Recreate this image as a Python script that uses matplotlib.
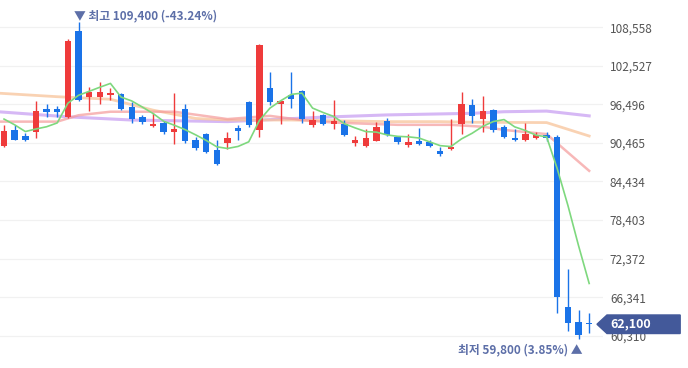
import matplotlib.pyplot as plt
import matplotlib.transforms as mtransforms
from matplotlib.patches import Polygon
import numpy as np

plt.rcParams['font.family'] = ['Noto Sans CJK KR', 'DejaVu Sans']

# daily candles
opens = [90000, 92500, 91600, 92100, 95700, 95800, 94500, 108000, 97600, 97600,
         97900, 98100, 96100, 94500, 93100, 93600, 92200, 95700, 91000, 91900,
         89400, 90400, 92800, 96900, 92500, 99000, 96600, 97900, 98600, 93200,
         94800, 93400, 93500, 90400, 90000, 90800, 93900, 91400, 90100, 90700,
         90600, 89200, 89500, 93400, 96400, 94200, 95600, 93000, 91200, 90900,
         91200, 91700, 91400, 64800, 62400, 62300]
highs = [93300, 93300, 92000, 97100, 96600, 96200, 106700, 109400, 99200, 100000,
         99000, 98300, 96800, 94800, 95200, 93900, 98300, 96500, 91400, 92000,
         91000, 92100, 93300, 97000, 106000, 101500, 97200, 101600, 98700, 95500,
         95000, 97200, 94100, 91600, 92600, 93800, 94300, 91600, 91900, 92800,
         90900, 89900, 94200, 98500, 97300, 97800, 95700, 93300, 92600, 93600,
         92200, 92200, 91700, 70700, 64300, 63900]
lows = [89900, 90900, 90800, 91300, 94600, 94600, 94300, 97100, 95500, 96600,
        97200, 95600, 93600, 93500, 93000, 91900, 90300, 90500, 89300, 88900,
        87000, 89500, 90900, 93000, 91400, 96400, 93500, 96000, 93600, 93000,
        93300, 92600, 91500, 90000, 89900, 90700, 91600, 90300, 89900, 90100,
        89900, 88500, 89300, 91900, 93600, 92100, 92200, 91300, 90800, 90800,
        91100, 90800, 63800, 61100, 59800, 60700]
closes = [92300, 91000, 91000, 95400, 95300, 95300, 106400, 97200, 98500, 98500,
          98300, 95700, 94200, 93700, 93500, 92200, 92600, 90800, 89600, 89100,
          87200, 91300, 92400, 93200, 105800, 96900, 97000, 97400, 94200, 94100,
          93400, 93900, 91700, 91000, 91200, 93000, 91700, 90600, 90600, 90300,
          90000, 88700, 89900, 96600, 94700, 95400, 92500, 91400, 90900, 91900,
          91700, 91200, 66400, 62300, 60400, 62100]

# moving averages
ma5 = [94200, 93300, 92250, 92650, 93000, 93600, 96680, 97920, 98540, 99180,
       99780, 97640, 97040, 96080, 95080, 93860, 93240, 92560, 91740, 90860,
       89860, 89600, 89920, 90640, 93980, 95920, 97060, 98060, 98260, 95920,
       95220, 94600, 93460, 92820, 92240, 92160, 91720, 91500, 91420, 91240,
       90640, 90040, 89900, 91100, 91980, 93060, 93820, 94120, 92980, 92420,
       91680, 91420, 86420, 80700, 74400, 68480]
ma20_idx = [-1, 5, 7, 10, 16, 21, 25, 28, 31, 37, 42, 45, 47, 51, 55]
ma20 = [93800, 93800, 94800, 95350, 95350, 94200, 94700, 94050, 93650, 93300,
        93300, 93000, 92500, 91850, 86100]
ma60_idx = [-1, 5, 10, 14, 18, 21, 27, 36, 41, 44, 51, 55]
ma60 = [98300, 97700, 97300, 95600, 94300, 94050, 94050, 93800, 93800, 93700,
        93650, 91550]
ma120_idx = [-1, 6, 12, 21, 30, 36, 44, 47, 51, 55]
ma120 = [95400, 94550, 94050, 93800, 94500, 94850, 95100, 95350, 95450, 94700]

yticks = [60310, 66341, 72372, 78403, 84434, 90465, 96496, 102527, 108558]
last_price = 62100
high_label = "▼ 최고 109,400 (-43.24%)"
low_label = "최저 59,800 (3.85%) ▲"

RED = '#ef3b3b'
BLUE = '#1a73e8'
TAG = '#43599a'
NOTE = '#5d6fa8'

fig = plt.figure(figsize=(6.88, 3.68), dpi=100)
ax = fig.add_axes([0, 0, 603 / 688, 1])

x = np.arange(len(closes))
o = np.array(opens)
c = np.array(closes)
up = c >= o
colors = np.where(up, RED, BLUE)

# wicks + bodies
ax.vlines(x, lows, highs, colors=colors, linewidth=1.0, zorder=3)
bottom = np.minimum(o, c)
height = np.maximum(np.abs(c - o), 250)
ax.bar(x, height, bottom=bottom, width=0.6, color=colors, zorder=4, linewidth=0)

# moving average lines
ax.plot(ma120_idx, ma120, color='#c9a0f2', lw=2.2, alpha=0.75, zorder=2)
ax.plot(ma60_idx, ma60, color='#f8c49a', lw=2.0, alpha=0.75, zorder=2)
ax.plot(ma20_idx, ma20, color='#f59a9a', lw=1.8, alpha=0.7, zorder=2)
ax.plot(x, ma5, color='#7ed87e', lw=1.2, zorder=5)

ax.set_xlim(-0.38, 56.3)
ax.set_ylim(55255, 112829)

ax.set_yticks(yticks)
ax.set_yticklabels([f"{v:,}" for v in yticks])
ax.yaxis.tick_right()
ax.tick_params(axis='y', length=0, pad=5, labelsize=8.5, labelcolor='#555555')
ax.set_xticks([])
ax.grid(axis='y', color='#f1f1f1', lw=0.9)
for s in ax.spines.values():
    s.set_visible(False)

# high / low notes
hi_i = int(np.argmax(highs))
lo_i = int(np.argmin(lows))
ax.annotate(high_label, xy=(hi_i, highs[hi_i]), xytext=(-3, 4.5),
            textcoords='offset points', ha='left', va='center',
            fontsize=8.5, color=NOTE, fontweight='bold')
ax.annotate(low_label, xy=(lo_i, lows[lo_i]), xytext=(3, -8),
            textcoords='offset points', ha='right', va='center',
            fontsize=8.5, color=NOTE, fontweight='bold')

# last price tag
trans = mtransforms.blended_transform_factory(ax.transAxes, ax.transData)
h = 1450
tag = Polygon([(0.990, last_price), (1.0066, last_price + h), (1.128, last_price + h),
               (1.128, last_price - h), (1.0066, last_price - h)],
              closed=True, transform=trans, color=TAG, clip_on=False, zorder=10)
ax.add_patch(tag)
ax.text(1.013, last_price, f"{last_price:,}", transform=trans, color='white',
        fontsize=9, va='center', ha='left', fontweight='bold', zorder=11, clip_on=False)

fig.savefig('out.png', dpi=100)
